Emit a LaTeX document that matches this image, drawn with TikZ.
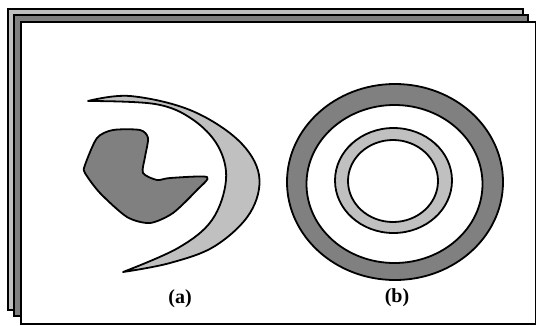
\documentclass[tikz,border=0pt]{standalone}
\usepackage{fontspec}
\setmainfont{Liberation Serif}
\definecolor{pglight}{HTML}{C0C0C0}
\definecolor{pgdark}{HTML}{808080}
\definecolor{pgink}{HTML}{000000}
\tikzset{
  pg sheet/.style={draw=pgink, line width=2.2pt},
  pg shape/.style={draw=pgink, line width=1.8pt, line join=round},
  pg label/.style={font=\fontsize{20}{24}\selectfont\bfseries, text=pgink}
}
\begin{document}
\begin{tikzpicture}[x=1pt, y=-1pt]
  \useasboundingbox (0,0) rectangle (536,325);
  % stacked sheets
  \draw[pg sheet, fill=pglight] (8,9) rectangle (523,310);
  \draw[pg sheet, fill=pgdark] (14,15) rectangle (528,316);
  \draw[pg sheet, fill=white] (21,22) rectangle (536,324);
  % (a) blob and crescent
  \draw[pg shape, fill=pgdark] plot[smooth cycle, tension=0.45] coordinates {
    (85,165) (97,138) (113,130) (140,130) (148,138) (145,157) (143,173)
    (157,180) (170,178) (207,177) (197,190) (173,213) (150,223) (127,217)
    (100,193) (85,173)};
  \draw[pg shape, fill=pglight] plot[smooth, tension=0.6] coordinates {
      (88,101) (130,96) (190,110) (238,140) (259,175) (250,213) (215,246)
      (170,263) (123,272)}
    -- plot[smooth, tension=0.6] coordinates {
      (123,272) (178,248) (212,220) (226,180) (218,146) (192,119) (155,104)
      (88,101)}
    -- cycle;
  % (b) rings
  \draw[pg shape, fill=pgdark, even odd rule]
    (395,182) ellipse [x radius=108, y radius=98]
    (394.5,184) ellipse [x radius=88, y radius=79];
  \draw[pg shape, fill=pglight, even odd rule]
    (393.5,180.5) ellipse [x radius=58.5, y radius=52.5]
    (393,181) ellipse [x radius=45, y radius=41];
  % labels
  \node[pg label] (lbla) at (180,299) {(a)};
  \node[pg label] (lblb) at (397,298) {(b)};
\end{tikzpicture}
\end{document}
